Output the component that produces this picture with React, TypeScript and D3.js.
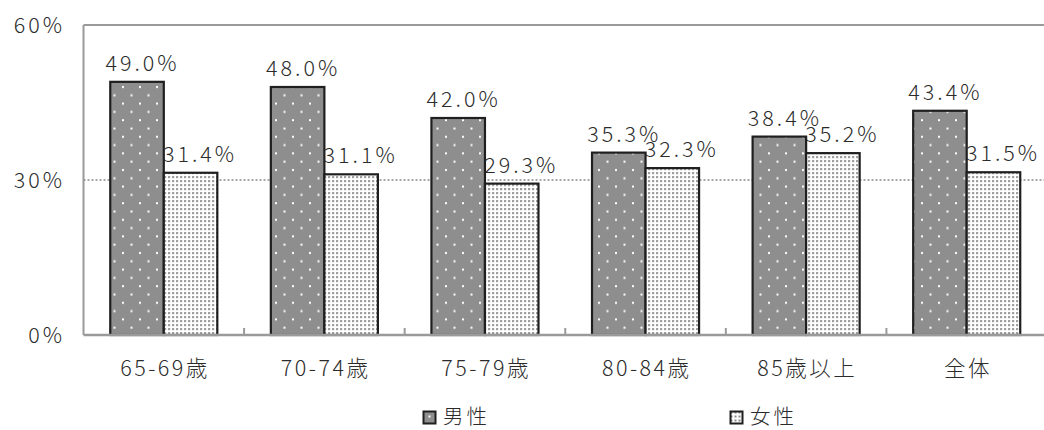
import * as d3 from 'd3';

const categories = ['65-69歳', '70-74歳', '75-79歳', '80-84歳', '85歳以上', '全体'];
const seriesNames = ['男性', '女性'];
const maleValues = [49.0, 48.0, 42.0, 35.3, 38.4, 43.4];
const femaleValues = [31.4, 31.1, 29.3, 32.3, 35.2, 31.5];
const yTicks = [0, 30, 60];

const W = 1044;
const H = 430;
const PLOT = { left: 83.5, right: 1047, top: 25, bottom: 335 };
const FONT = '"Noto Sans CJK JP", "Noto Sans", sans-serif';
const TEXT = '#2b2b2b';
const AXIS = '#9a9a9a';
const BAR_STROKE = '#1f1f1f';
const LS = 3; // letter spacing of the wide original font
const LABEL_DX = [4, 8]; // labels sit a little right of bar centre

export default function App() {
  const x0 = d3.scaleBand<string>().domain(categories).range([PLOT.left, PLOT.right]).padding(0);
  const x1 = d3
    .scaleBand<string>()
    .domain(seriesNames)
    .range([0, x0.bandwidth()])
    .paddingInner(0)
    .paddingOuter(0.5);
  const y = d3.scaleLinear().domain([0, 60]).range([PLOT.bottom, PLOT.top]);

  const seriesValues = [maleValues, femaleValues];
  const fills = ['url(#malePat)', 'url(#femalePat)'];

  const bars = categories.flatMap((c, ci) =>
    seriesNames.map((s, si) => ({
      cat: c,
      series: s,
      si,
      value: seriesValues[si][ci],
      x: (x0(c) ?? 0) + (x1(s) ?? 0),
    }))
  );

  const fmt = (v: number) => `${v.toFixed(1)}%`;

  return (
    <svg
      width={W}
      height={H}
      viewBox={`0 0 ${W} ${H}`}
      style={{ position: 'absolute', left: 0, top: 0, background: '#fff' }}
      fontFamily={FONT}
      fontWeight={300}
    >
      <defs>
        <pattern id="malePat" patternUnits="userSpaceOnUse" width={17} height={16.6}>
          <rect width={17} height={16.6} fill="#8e8e8e" />
          <rect x={3} y={3} width={2} height={2} fill="#fff" />
          <rect x={11.5} y={11.3} width={2} height={2} fill="#fff" />
        </pattern>
        <pattern id="femalePat" patternUnits="userSpaceOnUse" width={4} height={4}>
          <rect width={4} height={4} fill="#fff" />
          <rect x={0} y={0} width={2.2} height={2.2} fill="#a0a0a0" />
        </pattern>
        <pattern id="femaleLegPat" patternUnits="userSpaceOnUse" width={4} height={4}>
          <rect width={4} height={4} fill="#fff" />
          <rect x={0.5} y={0.5} width={2} height={2} fill="#8a8a8a" />
        </pattern>
      </defs>

      {/* plot frame: top and left */}
      <line x1={PLOT.left} x2={W} y1={y(60)} y2={y(60)} stroke={AXIS} strokeWidth={2} />
      <line x1={PLOT.left} x2={PLOT.left} y1={y(60)} y2={PLOT.bottom} stroke={AXIS} strokeWidth={2} />

      {/* 30% gridline */}
      <line
        x1={PLOT.left}
        x2={W}
        y1={y(30)}
        y2={y(30)}
        stroke="#8a8a8a"
        strokeWidth={1.3}
        strokeDasharray="2 2"
      />

      {/* y tick labels */}
      {yTicks.map((t) => (
        <text
          key={t}
          x={62 + LS}
          y={y(t)}
          dy="0.36em"
          textAnchor="end"
          fontSize={21.5}
          letterSpacing={LS}
          fill={TEXT}
        >
          {t}%
        </text>
      ))}

      {/* data labels (beneath bars, as in the original) */}
      {bars.map((b) => (
        <text
          key={`l-${b.cat}-${b.series}`}
          x={b.x + x1.bandwidth() / 2 + LABEL_DX[b.si] + LS / 2}
          y={y(b.value) - 11}
          textAnchor="middle"
          fontSize={21.5}
          letterSpacing={LS}
          fill={TEXT}
        >
          {fmt(b.value)}
        </text>
      ))}

      {/* bars */}
      {bars.map((b) => (
        <rect
          key={`b-${b.cat}-${b.series}`}
          x={b.x}
          y={y(b.value)}
          width={x1.bandwidth()}
          height={PLOT.bottom - y(b.value)}
          fill={fills[b.si]}
          stroke={BAR_STROKE}
          strokeWidth={2.2}
        />
      ))}

      {/* x axis */}
      <line x1={PLOT.left} x2={W} y1={PLOT.bottom} y2={PLOT.bottom} stroke={AXIS} strokeWidth={2.5} />
      {categories.slice(1).map((c) => (
        <line
          key={`t-${c}`}
          x1={x0(c) ?? 0}
          x2={x0(c) ?? 0}
          y1={PLOT.bottom}
          y2={PLOT.bottom - 7}
          stroke={AXIS}
          strokeWidth={2}
        />
      ))}
      {categories.map((c) => (
        <text
          key={`x-${c}`}
          x={(x0(c) ?? 0) + x0.bandwidth() / 2 + 1.25}
          y={376}
          textAnchor="middle"
          fontSize={21.5}
          letterSpacing={2.5}
          fill={TEXT}
        >
          {c}
        </text>
      ))}

      {/* legend */}
      {seriesNames.map((s, i) => {
        const lx = [423, 730][i];
        return (
          <g key={`leg-${s}`} transform={`translate(${lx},411)`}>
            <rect
              x={0.5}
              y={0.5}
              width={12}
              height={12}
              fill={i === 0 ? '#8e8e8e' : 'url(#femaleLegPat)'}
              stroke={BAR_STROKE}
              strokeWidth={2}
            />
            {i === 0 && <rect x={5.5} y={4.5} width={2} height={2} fill="#fff" />}
            <text x={20} y={13} fontSize={20.5} letterSpacing={3} fill={TEXT}>
              {s}
            </text>
          </g>
        );
      })}
    </svg>
  );
}
